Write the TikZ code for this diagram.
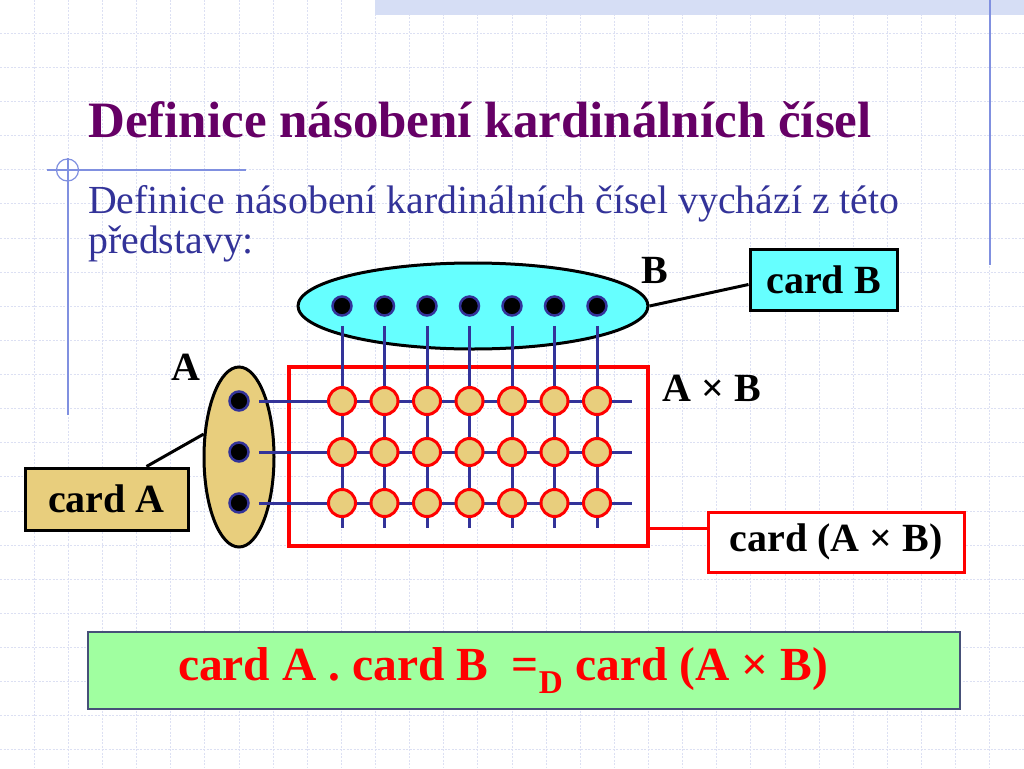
\documentclass[tikz,border=0pt]{standalone}
\usepackage{fontspec}
\setmainfont{Liberation Serif}
\usetikzlibrary{shapes.geometric}

\definecolor{titlepurple}{HTML}{660066}
\definecolor{navy}{HTML}{333399}
\definecolor{skycyan}{HTML}{66FFFF}
\definecolor{sand}{RGB}{232,206,125}
\definecolor{mint}{RGB}{160,255,160}
\definecolor{gridline}{RGB}{220,224,243}
\definecolor{deco}{RGB}{128,144,224}
\definecolor{band}{RGB}{214,222,245}
\definecolor{boxedge}{RGB}{70,80,120}

\tikzset{
  bigtext/.style = {font=\bfseries\fontsize{40}{46}\selectfont},
  dot/.style = {circle, fill=black, draw=navy, line width=2.5pt, minimum size=19pt, inner sep=0pt},
  pair/.style = {circle, fill=sand, draw=red, line width=3pt, minimum size=27pt, inner sep=0pt},
  wire/.style = {navy, line width=3pt},
  cardbox/.style = {draw, line width=3pt, bigtext, inner sep=0pt},
}

\begin{document}
\begin{tikzpicture}[x=1pt, y=-1pt]
\useasboundingbox (0,0) rectangle (1024,768);
\fill[white] (0,0) rectangle (1024,768);
% background grid and slide decoration
\foreach \k in {1,...,29}
    \draw[gridline, line width=0.8pt, dash pattern=on 2pt off 1.5pt] ({\k*34.13},0) -- ({\k*34.13},768);
\foreach \k in {1,...,22}
    \draw[gridline, line width=0.8pt, dash pattern=on 2pt off 1.5pt] (0,{\k*34.13-1}) -- (1024,{\k*34.13-1});
\fill[band] (375,0) rectangle (1024,15);
\draw[deco, line width=1.2pt] (990,0) -- (990,265);
\draw[deco, line width=1.2pt] (47,170) -- (246,170);
\draw[deco, line width=1.2pt] (68,158) -- (68,415);
\draw[deco, line width=1.2pt] (67.5,170) circle (11);

% title and text
\draw (88,137) node[anchor=base west, inner sep=0pt, titlepurple, font=\bfseries\fontsize{51}{60}\selectfont](title){Definice násobení kardinálních čísel}
    (88,213) node[anchor=base west, inner sep=0pt, navy, font=\fontsize{39.8}{40}\selectfont](line1){Definice násobení kardinálních čísel vychází z této}
    (88,253) node[anchor=base west, inner sep=0pt, navy, font=\fontsize{39.8}{40}\selectfont](line2){představy:};

% the two sets and the product
\draw (473,306) node[ellipse, draw, fill=skycyan, line width=3pt, minimum width=350pt, minimum height=86pt, inner sep=0pt](setB){}
    (239,457) node[ellipse, draw, fill=sand, line width=3pt, minimum width=70pt, minimum height=180pt, inner sep=0pt](setA){}
    (468.5,456.5) node[rectangle, draw=red, line width=3.5pt, minimum width=359pt, minimum height=179pt, inner sep=0pt](prod){};

% elements of B and A
\foreach \i in {1,...,7}
    \draw ({342+42.5*(\i-1)},306) node[dot](b\i){}
        ({342+42.5*(\i-1)},528) coordinate (v\i);
\foreach \j in {1,...,3}
    \draw (239,{401+51*(\j-1)}) node[dot](a\j){}
        (632,{401+51*(\j-1)}) coordinate (h\j);

\foreach \i in {1,...,7}
    \draw[wire, shorten <=9pt] (b\i) -- (v\i);
\foreach \j in {1,...,3}
    \draw[wire, shorten <=9pt] (a\j) -- (h\j);

% pairs of A x B
\foreach \i in {1,...,7}
    \foreach \j in {1,...,3}
        \draw ({342+42.5*(\i-1)},{401+51*(\j-1)}) node[pair](p\i\j){};

% labels
\draw (655,270) node[bigtext](labB){B}
    (186,367) node[bigtext](labA){A}
    (712,388) node[bigtext](labAB){A × B};

% card boxes
\draw (823.5,279.5) node[cardbox, fill=skycyan, minimum width=147pt, minimum height=61pt](cardB){card B}
    (106.5,499) node[cardbox, fill=sand, minimum width=163pt, minimum height=62pt](cardA){card A}
    (836,542) node[cardbox, draw=red, fill=white, minimum width=256pt, minimum height=60pt](cardAB){card (A × B)};
    \draw [-, line width=3pt] (setB.east) -- ([yshift=-5pt]cardB.west);
    \draw [-, line width=3pt] ([xshift=40pt]cardA.north) -- (setA.147);
    \draw [-, red, line width=3pt] ([yshift=-71.5pt]prod.east) -- ([yshift=-71.5pt]prod.east -| cardAB.west);

% definition
\draw (524,670.5) node[draw=boxedge, fill=mint, line width=1.2pt, minimum width=872pt, minimum height=77pt, inner sep=0pt, text=red, font=\bfseries\fontsize{47.5}{50}\selectfont](defn){card A . card B\ \ =\textsubscript{D} card (A × B)\hspace*{42pt}};
\end{tikzpicture}
\end{document}
